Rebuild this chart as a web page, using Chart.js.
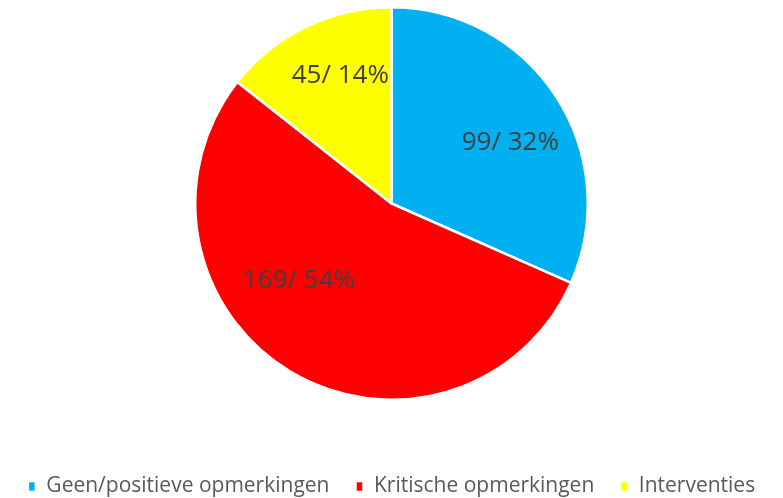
<!DOCTYPE html>
<html>
<head>
<meta charset="utf-8">
<script src="https://cdn.jsdelivr.net/npm/chart.js@4"></script>
<style>
    html, body { margin: 0; padding: 0; background: #fff; }
    #wrap { width: 783px; height: 498px; }
</style>
</head>
<body>
<div id="wrap"><canvas id="pieChart"></canvas></div>
<script>
const categories = ['Geen/positieve opmerkingen', 'Kritische opmerkingen', 'Interventies'];
const counts = [99, 169, 45];
const sliceLabels = ['99/ 32%', '169/ 54%', '45/ 14%'];
const sliceColors = ['#00B0F0', '#FF0000', '#FFFF00'];

// where the text sits inside each slice (fraction of radius, angle nudge in degrees)
const labelRadius = [0.68, 0.615, 0.70];
const labelShift = [6, 19, 4];

const sliceLabelPlugin = {
    id: 'sliceLabels',
    afterDatasetsDraw(chart) {
        const ctx = chart.ctx;
        const meta = chart.getDatasetMeta(0);
        ctx.save();
        ctx.font = '26px "Open Sans", sans-serif';
        ctx.fillStyle = '#404040';
        ctx.textAlign = 'center';
        ctx.textBaseline = 'middle';
        meta.data.forEach((arc, i) => {
            const p = arc.getProps(['x', 'y', 'startAngle', 'endAngle', 'outerRadius'], true);
            const mid = (p.startAngle + p.endAngle) / 2 + labelShift[i] * Math.PI / 180;
            const r = p.outerRadius * labelRadius[i];
            ctx.fillText(sliceLabels[i], p.x + Math.cos(mid) * r, p.y + Math.sin(mid) * r);
        });
        ctx.restore();
    }
};

const ctx = document.getElementById('pieChart').getContext('2d');
new Chart(ctx, {
    type: 'pie',
    data: {
        labels: categories,
        datasets: [{
            data: counts,
            backgroundColor: sliceColors,
            borderColor: '#ffffff',
            borderWidth: 2.5
        }]
    },
    options: {
        responsive: true,
        maintainAspectRatio: false,
        animation: false,
        layout: {padding: {top: 6, bottom: -9}},
        plugins: {
            tooltip: {enabled: false},
            legend: {
                position: 'bottom',
                title: {
                    display: true,
                    text: ' ',
                    font: {size: 10},
                    padding: {top: 37, bottom: 0}
                },
                labels: {
                    boxWidth: 8,
                    boxHeight: 11,
                    padding: 26,
                    color: '#595959',
                    font: {size: 21, family: '"Open Sans", sans-serif'}
                }
            }
        }
    },
    plugins: [sliceLabelPlugin]
});
</script>
</body>
</html>
